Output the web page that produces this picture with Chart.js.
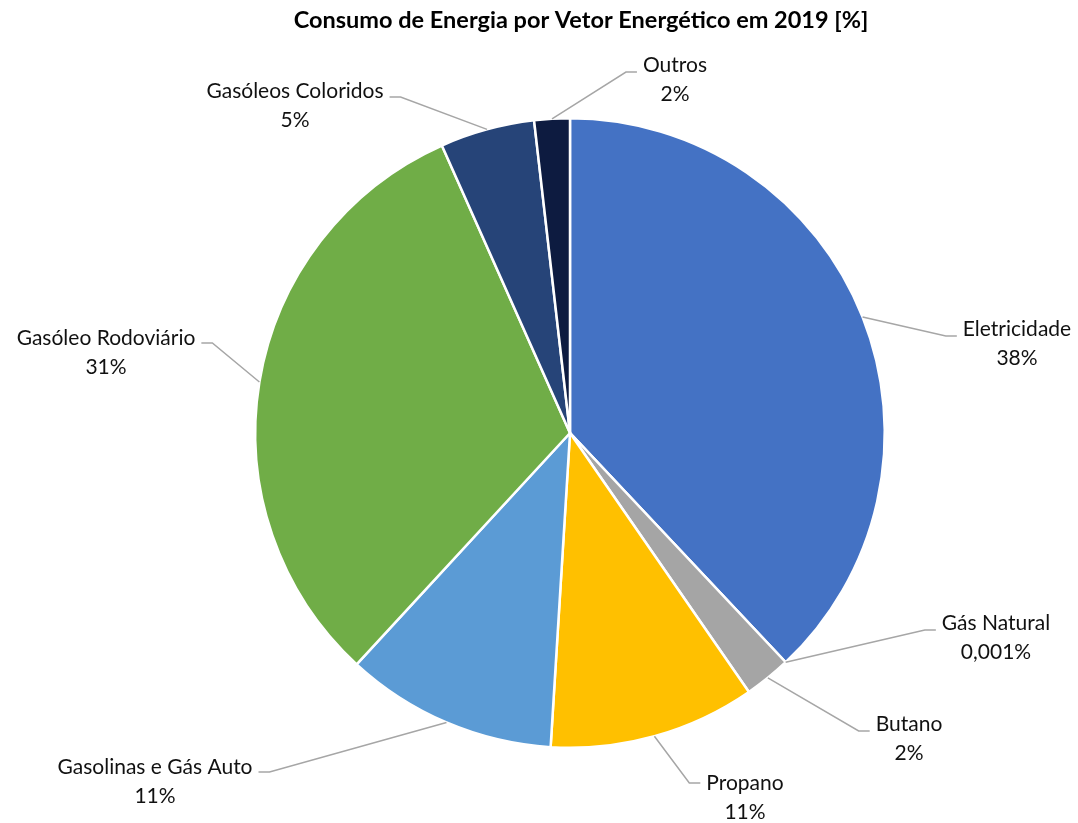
<!DOCTYPE html>
<html lang="pt">
<head>
<meta charset="utf-8">
<title>Consumo de Energia por Vetor Energético em 2019</title>
<script src="https://cdn.jsdelivr.net/npm/chart.js@4.4.1/dist/chart.umd.min.js"></script>
<style>
    html, body { margin: 0; padding: 0; background: #fff; }
    #energia { display: block; }
</style>
</head>
<body>
<canvas id="energia" width="1078" height="823"></canvas>
<script>
// vetores energéticos, sentido horário a partir do topo
const categories = [
    "Eletricidade",
    "Gás Natural",
    "Butano",
    "Propano",
    "Gasolinas e Gás Auto",
    "Gasóleo Rodoviário",
    "Gasóleos Coloridos",
    "Outros"
];
// quota de cada vetor [%]
const shares = [37.97, 0.001, 2.39, 10.60, 10.87, 31.46, 4.85, 1.82];
const sliceColors = ["#4472C4", "#ED7D31", "#A5A5A5", "#FFC000", "#5B9BD5", "#70AD47", "#264478", "#0D1B40"];

// onde fica cada rótulo, em px a partir do centro do gráfico
// side = lado do rótulo onde entra a linha, lead = desvio vertical da linha
const labelSpots = [
    { dx: 447, dy: -104, side: "left", lead: 7 },
    { dx: 426, dy: 190, side: "left", lead: 7 },
    { dx: 339, dy: 291, side: "left", lead: 7 },
    { dx: 175, dy: 350, side: "left", lead: 0 },
    { dx: -415, dy: 334, side: "right", lead: 5 },
    { dx: -464, dy: -95, side: "right", lead: 5 },
    { dx: -275, dy: -342, side: "right", lead: 6 },
    { dx: 105, dy: -368, side: "left", lead: 7 }
];

const labelFont = "21px Lato";
const titleFont = "bold 23.5px Lato";
const titleText = "Consumo de Energia por Vetor Energético em 2019 [%]";

function pctText(value, total) {
    let p = value / total * 100;
    if (p < 0.5) {
        return p.toFixed(3).replace(".", ",") + "%";
    }
    return Math.round(p) + "%";
}

const rotulosPlugin = {
    id: "rotulos",
    afterDraw(chart) {
        const ctx = chart.ctx;
        const meta = chart.getDatasetMeta(0);
        const total = shares.reduce((a, b) => a + b, 0);

        ctx.save();
        // titulo
        ctx.fillStyle = "#000";
        ctx.font = titleFont;
        ctx.textAlign = "center";
        ctx.textBaseline = "middle";
        ctx.fillText(titleText, 581, 20);

        ctx.font = labelFont;
        meta.data.forEach((arc, i) => {
            const p = arc.getProps(["x", "y", "startAngle", "endAngle", "outerRadius"], true);
            const mid = (p.startAngle + p.endAngle) / 2;
            const ax = p.x + Math.cos(mid) * p.outerRadius;
            const ay = p.y + Math.sin(mid) * p.outerRadius;

            const spot = labelSpots[i];
            const lx = p.x + spot.dx;
            const ly = p.y + spot.dy;
            const name = categories[i];
            const pct = pctText(shares[i], total);
            const w = Math.max(ctx.measureText(name).width, ctx.measureText(pct).width);

            let edge, elbow;
            if (spot.side === "left") {
                edge = lx - w / 2 - 6;
                elbow = edge - 11;
            } else {
                edge = lx + w / 2 + 6;
                elbow = edge + 11;
            }
            const ey = ly + spot.lead;

            ctx.strokeStyle = "#A6A6A6";
            ctx.lineWidth = 1.5;
            ctx.beginPath();
            ctx.moveTo(ax, ay);
            ctx.lineTo(elbow, ey);
            ctx.lineTo(edge, ey);
            ctx.stroke();

            ctx.fillStyle = "#111";
            ctx.fillText(name, lx, ly);
            ctx.fillText(pct, lx, ly + 29);
        });
        ctx.restore();
    }
};

const ctx = document.getElementById("energia");

new Chart(ctx, {
    type: "pie",
    data: {
        labels: categories,
        datasets: [{
            data: shares,
            backgroundColor: sliceColors,
            borderColor: "#ffffff",
            borderWidth: 2.5
        }]
    },
    options: {
        responsive: false,
        animation: false,
        layout: {
            padding: { top: 117, bottom: 74, left: 254, right: 192 }
        },
        plugins: {
            legend: { display: false },
            tooltip: { enabled: false },
            title: { display: false }
        }
    },
    plugins: [rotulosPlugin]
});
</script>
</body>
</html>
